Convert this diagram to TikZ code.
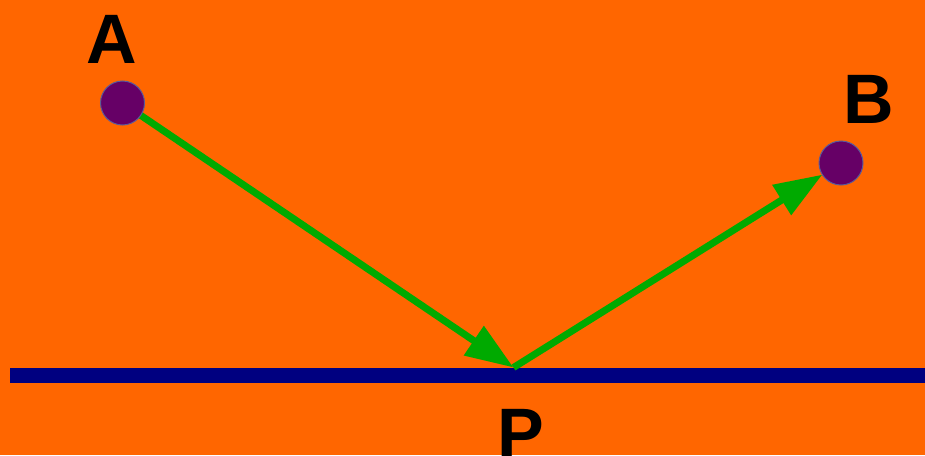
\documentclass[tikz,border=0pt]{standalone}
\usepackage{fontspec}
\setmainfont{Liberation Sans}
\usetikzlibrary{arrows.meta,backgrounds}
\definecolor{bgorange}{HTML}{FF6600}
\definecolor{raygreen}{HTML}{00AA00}
\definecolor{mirrorblue}{HTML}{000080}
\definecolor{ptpurple}{HTML}{660066}
\definecolor{ptborder}{HTML}{5A5A9A}
\tikzset{
  pt/.style={circle, fill=ptpurple, draw=ptborder, line width=1pt, minimum size=44pt, inner sep=0pt, outer sep=0pt},
  lbl/.style={font=\fontsize{70}{70}\selectfont\bfseries, anchor=base, inner sep=0pt, text=black},
  ray/.style={draw=raygreen, line width=7pt, -{Triangle[length=48pt,width=34pt]}},
  mirror/.style={draw=mirrorblue, line width=15pt}
}
\begin{document}
\begin{tikzpicture}[x=1pt,y=-1pt]
\useasboundingbox (0,0) rectangle (925,455);
\node[pt] (A) at (122.5,103) {};
\node[pt] (B) at (841,163) {};
\coordinate (P) at (513.5,367.5);
\coordinate (M1) at (10,375);
\coordinate (M2) at (925,375);
\begin{scope}[on background layer]
  \fill[bgorange] (0,0) rectangle (925,455);
  \draw[mirror] (M1) -- (M2);
  \draw[ray] (A.center) -- (P);
  \draw[ray] (P) -- (B);
\end{scope}
\node[lbl] (la) at (112,63) {A};
\node[lbl] (lb) at (869,123) {B};
\node[lbl] (lp) at (521,457) {P};
\end{tikzpicture}
\end{document}
